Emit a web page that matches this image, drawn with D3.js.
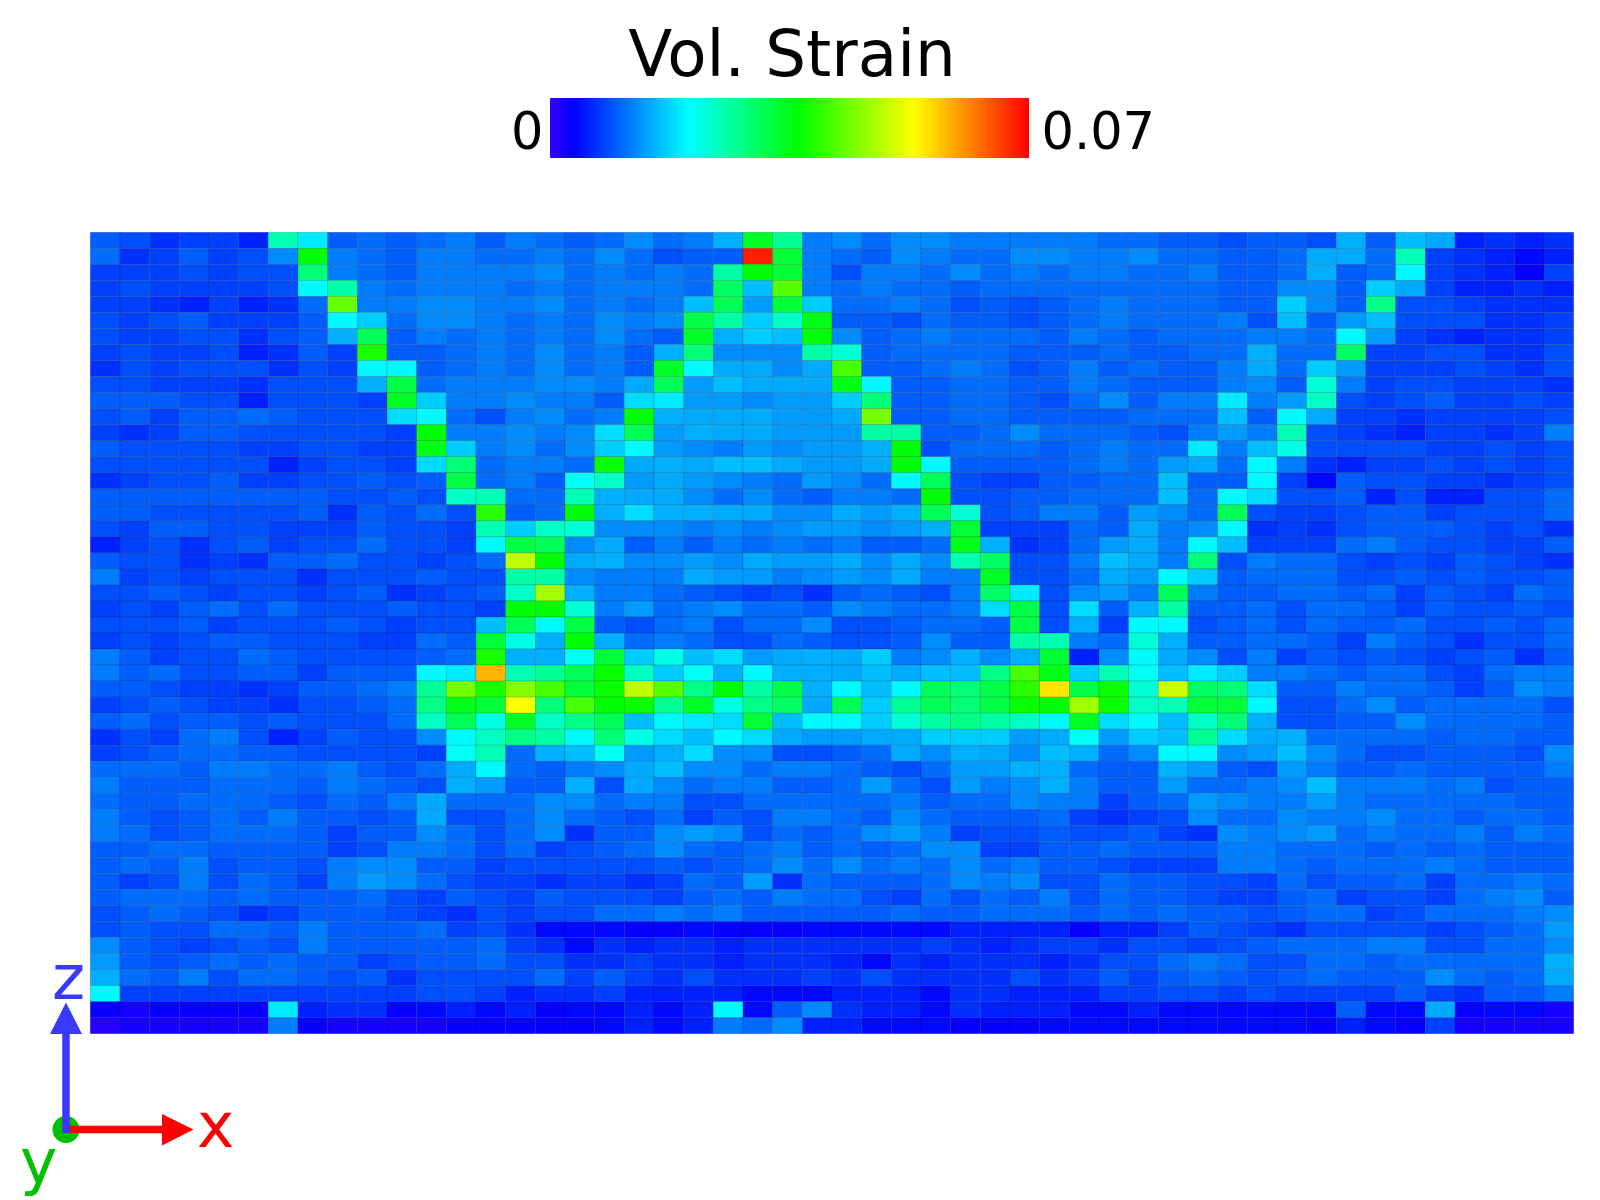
<!DOCTYPE html>
<html>
<head>
<meta charset="utf-8">
<script src="https://cdn.jsdelivr.net/npm/d3@7"></script>
<style>
  html, body { margin: 0; padding: 0; background: #fff; }
  text { font-family: "DejaVu Sans", sans-serif; }
</style>
</head>
<body>
<svg id="chart"></svg>
<script>
// Volumetric strain per cell, top row first, in units of 0.001
const row00 = [9,8,6,7,7,5,25,19,9,10,9,10,11,9,11,10,9,10,12,10,11,15,34,27,11,12,10,12,12,11,11,11,11,11,10,10,9,9,8,9,9,8,15,9,16,14,5,6,5,6];
const row01 = [10,6,7,9,7,8,12,36,11,10,9,11,11,10,10,11,10,12,10,8,9,9,68,33,11,10,9,12,11,10,10,12,12,11,11,12,10,10,9,9,10,14,14,10,25,7,6,5,4,5];
const row02 = [7,7,7,8,7,8,8,29,11,10,9,11,11,11,11,12,10,11,10,11,10,26,36,33,11,8,11,11,10,12,10,11,10,11,11,10,10,11,9,9,10,15,9,10,20,7,6,5,3,7];
const row03 = [7,8,7,7,7,7,8,20,26,11,10,11,11,11,10,11,10,11,11,11,10,30,16,42,11,10,11,10,10,9,10,10,10,10,10,10,10,10,9,9,12,12,9,17,14,7,5,5,6,5];
const row04 = [7,7,6,5,7,5,6,10,43,11,11,12,12,11,11,12,10,11,10,11,16,31,13,33,17,10,10,11,10,8,9,8,9,10,11,10,10,10,9,9,17,12,9,28,8,8,7,6,6,6];
const row05 = [8,7,8,9,7,7,7,9,20,17,10,12,12,11,10,11,10,12,11,12,32,26,17,24,35,9,9,8,10,9,9,8,9,10,11,10,10,10,11,8,16,9,13,16,8,8,8,6,6,7];
const row06 = [8,7,7,8,8,6,8,9,15,31,9,11,10,11,10,11,10,12,10,9,34,15,17,16,36,12,9,10,11,10,10,10,9,11,10,9,10,10,10,11,11,10,20,13,7,6,5,6,6,7];
const row07 = [7,8,7,7,8,5,6,9,7,38,9,9,10,11,10,12,10,11,9,15,29,12,12,12,26,23,9,10,10,10,10,9,9,9,10,9,9,10,10,15,10,10,30,7,7,8,8,6,6,8];
const row08 = [6,8,7,8,8,8,6,8,7,20,20,9,10,11,10,12,10,11,9,34,20,14,14,12,14,41,9,9,10,11,10,8,9,11,9,10,9,9,11,14,10,17,13,7,7,7,8,7,6,8];
const row09 = [8,8,7,7,7,6,8,8,8,15,32,10,11,11,11,12,12,11,14,31,13,16,14,14,14,35,20,9,9,10,10,9,9,11,10,9,9,9,11,12,9,23,11,7,8,8,7,7,7,6];
const row10 = [9,9,9,8,8,5,8,8,8,7,34,17,11,11,12,11,11,9,18,19,13,13,12,13,13,17,29,9,9,10,10,9,8,10,12,9,11,11,19,11,13,24,8,7,8,9,7,7,8,7];
const row11 = [8,9,7,9,9,10,9,8,8,8,18,20,10,8,11,12,10,11,36,15,14,14,14,13,13,14,44,9,9,10,10,9,9,9,9,10,10,10,16,9,20,14,7,7,6,7,7,7,7,8];
const row12 = [7,6,7,9,9,8,8,8,8,8,7,36,11,11,12,11,12,18,31,13,15,14,14,13,13,13,26,26,9,9,10,12,10,10,10,9,8,11,13,11,25,8,7,6,5,7,7,6,7,11];
const row13 = [9,8,8,8,8,7,7,8,8,7,7,35,17,11,12,10,12,17,20,13,12,11,13,12,13,13,15,36,8,10,10,10,9,10,11,10,10,19,11,16,22,8,8,8,8,7,7,8,7,8];
const row14 = [8,8,8,8,8,8,5,7,8,8,7,18,29,10,11,11,10,37,14,15,14,16,16,14,13,13,14,36,20,9,9,9,9,10,11,10,13,14,10,20,11,6,5,7,7,8,7,8,7,8];
const row15 = [6,7,8,8,9,7,7,8,8,9,8,9,32,10,11,9,21,24,13,14,13,12,11,10,13,12,10,20,31,8,7,7,9,9,10,10,16,9,9,20,7,4,9,8,8,7,7,6,7,8];
const row16 = [9,9,9,9,9,9,9,9,8,8,9,8,24,25,10,10,25,15,14,14,12,10,12,10,9,11,11,10,36,8,8,9,9,10,10,10,16,10,20,18,8,8,9,5,8,5,5,8,8,10];
const row17 = [9,9,8,8,8,8,8,9,6,9,8,10,8,39,9,10,36,15,18,15,15,14,14,12,12,14,13,15,31,23,8,9,11,11,9,13,12,10,31,8,7,7,8,9,9,7,8,8,8,10];
const row18 = [8,7,9,9,8,8,7,7,7,9,8,8,7,25,17,24,23,12,12,12,11,12,11,12,13,13,12,13,15,33,7,7,7,10,9,14,11,12,20,6,7,6,8,9,9,9,8,7,8,6];
const row19 = [5,7,8,6,8,9,7,8,8,10,8,8,7,20,32,31,12,14,9,11,9,11,10,11,10,11,9,9,10,35,15,6,7,10,13,14,11,20,16,7,7,7,10,11,9,8,8,7,7,9];
const row20 = [9,8,8,6,7,6,9,9,10,8,8,7,8,10,49,36,14,15,12,12,13,12,14,13,13,14,12,14,12,25,30,8,8,11,16,14,11,29,8,11,10,10,8,7,8,7,9,8,7,6];
const row21 = [11,7,8,7,8,8,8,6,8,8,8,9,8,8,26,26,12,11,11,11,14,13,13,11,12,13,12,14,11,11,34,8,8,10,14,13,20,17,9,10,10,10,8,8,9,8,9,8,8,9];
const row22 = [8,8,9,8,7,8,8,7,8,9,6,7,8,9,24,47,15,11,11,10,9,8,7,8,6,9,10,9,8,11,30,19,8,12,13,11,31,11,9,9,10,10,9,10,7,9,8,7,10,9];
const row23 = [7,8,7,9,10,8,10,8,8,8,9,8,8,7,36,36,23,11,13,10,11,12,10,10,9,12,11,10,10,11,18,32,8,18,9,15,26,9,9,10,8,10,10,9,7,9,8,8,9,8];
const row24 = [8,8,8,9,7,8,8,8,9,8,7,8,8,16,31,20,32,9,8,10,11,8,10,10,12,8,8,9,10,10,9,32,8,15,7,20,20,8,9,10,8,10,9,9,10,8,8,9,8,10];
const row25 = [7,8,7,8,9,9,8,8,8,7,7,10,9,33,22,15,36,15,10,11,10,8,8,10,9,8,8,9,12,9,9,26,25,11,10,23,15,9,9,10,10,9,7,11,9,8,6,8,8,10];
const row26 = [11,9,7,8,8,10,9,8,8,8,8,9,10,38,15,15,21,33,17,22,16,18,13,14,15,14,17,11,12,15,12,15,33,5,12,20,14,12,8,11,7,9,8,9,8,7,8,9,6,9];
const row27 = [11,9,10,8,8,9,9,7,9,9,9,20,19,58,25,27,31,37,24,17,21,15,20,15,15,14,16,14,16,16,28,41,35,17,25,21,16,19,17,11,11,10,9,10,10,8,7,10,11,11];
const row28 = [9,9,8,7,7,6,7,9,9,10,11,27,44,38,45,41,33,37,49,42,28,36,26,32,15,20,16,20,31,29,32,39,55,32,37,23,50,30,29,18,9,9,11,10,10,9,7,9,12,11];
const row29 = [7,8,9,8,7,7,6,8,8,9,10,28,35,33,53,29,41,36,37,27,34,22,28,30,14,31,17,27,31,29,32,37,36,47,37,24,25,33,33,20,8,8,10,12,9,10,10,10,10,8];
const row30 = [9,10,8,9,9,8,9,8,8,8,10,24,31,22,34,24,28,31,16,20,19,18,33,16,20,20,17,23,26,28,26,24,20,34,18,20,16,24,29,15,8,8,9,9,12,10,10,10,10,9];
const row31 = [6,8,7,10,11,8,5,7,9,8,8,12,20,24,28,26,20,29,22,18,16,20,18,14,13,13,14,14,17,17,17,13,14,21,13,17,16,27,18,14,15,10,10,10,10,9,10,10,9,9];
const row32 = [7,8,9,10,10,9,9,8,8,8,8,7,21,25,10,15,16,21,13,15,18,12,12,8,8,9,10,14,12,15,14,12,16,15,10,12,20,20,12,13,16,12,10,8,8,9,9,9,8,12];
const row33 = [10,10,10,9,11,11,10,10,11,9,8,10,14,20,10,9,11,12,14,16,12,12,10,11,11,10,9,8,10,13,13,15,15,10,9,9,15,13,9,8,13,11,9,9,10,9,9,9,9,11];
const row34 = [11,9,9,9,10,10,10,9,11,10,9,8,15,13,9,9,15,8,14,12,10,11,11,9,9,10,13,10,8,13,11,12,15,11,9,9,13,10,10,11,12,16,11,11,11,10,11,8,9,9];
const row35 = [10,9,9,10,10,10,9,8,10,9,11,14,10,10,10,12,12,10,11,11,8,8,10,10,10,10,10,11,9,10,10,12,11,11,7,9,10,13,12,11,11,13,11,10,10,10,10,10,9,9];
const row36 = [11,9,8,9,10,9,11,9,9,8,9,14,8,8,10,12,10,9,8,10,7,9,8,11,11,10,9,12,10,9,9,9,10,7,6,7,8,12,10,10,12,11,11,12,10,10,9,10,10,9];
const row37 = [11,10,8,9,10,10,10,9,7,9,9,12,10,8,10,12,6,9,9,12,13,12,8,10,9,10,12,13,11,7,8,8,9,8,8,9,7,6,12,11,12,13,10,11,10,10,11,9,11,10];
const row38 = [9,9,10,10,9,9,9,9,7,8,11,11,10,8,10,7,8,9,10,12,10,9,10,11,9,10,9,10,12,12,7,7,9,9,10,9,9,9,11,11,10,10,10,9,10,9,10,9,9,9];
const row39 = [9,10,9,11,8,9,9,8,11,12,12,9,9,7,8,8,8,8,8,9,8,9,10,12,10,12,10,11,10,12,10,11,9,9,8,7,7,7,11,11,10,9,10,10,10,11,10,9,9,9];
const row40 = [9,7,8,11,8,10,9,7,11,13,12,10,8,7,7,6,7,7,6,7,10,9,13,6,10,9,9,9,10,12,11,12,8,8,10,9,9,8,8,7,10,8,9,9,10,7,10,10,11,10];
const row41 = [9,10,10,10,9,10,9,9,9,10,8,7,9,8,7,9,8,8,8,7,9,10,9,11,10,10,8,7,10,8,10,9,11,8,10,9,9,8,7,7,9,10,7,8,8,7,10,11,12,9];
const row42 = [8,9,10,9,8,6,7,9,9,9,8,7,6,8,7,8,8,10,10,11,10,11,9,9,9,9,9,10,9,9,10,10,10,9,10,9,10,9,9,8,9,10,10,7,8,10,10,10,11,12];
const row43 = [8,9,8,8,10,10,9,11,9,9,9,10,7,8,6,4,4,4,3,3,4,3,3,3,4,4,4,4,4,5,5,5,5,3,5,5,7,9,8,7,6,8,8,8,8,7,8,9,10,13];
const row44 = [12,9,8,7,8,9,8,11,9,9,9,9,9,10,7,6,4,6,5,6,6,5,6,6,6,6,6,6,7,6,5,6,7,7,6,8,8,7,8,9,10,10,10,11,11,8,8,10,10,12];
const row45 = [13,9,8,9,10,9,10,9,9,7,8,9,9,10,8,8,6,6,7,6,6,5,6,6,6,5,4,6,5,6,6,6,5,6,8,8,10,11,10,8,8,10,10,9,10,10,10,10,10,15];
const row46 = [15,10,9,11,8,10,10,9,8,9,6,8,8,8,8,10,7,9,7,6,8,6,6,6,7,6,8,6,6,6,6,8,6,7,9,7,9,10,9,8,9,10,9,9,9,12,10,9,10,14];
const row47 = [20,7,7,7,7,7,7,7,7,7,7,8,8,7,5,6,6,7,5,5,5,5,4,4,4,5,5,5,4,6,6,5,5,5,7,7,8,8,7,8,7,7,7,7,9,7,6,9,9,11];
const row48 = [3,2,3,3,3,3,19,5,6,6,3,4,5,4,5,3,4,4,5,4,5,20,4,9,12,6,5,5,4,6,5,5,5,4,4,5,4,4,4,4,4,4,9,4,4,14,3,4,4,2];
const row49 = [1,2,2,2,2,2,11,3,2,2,2,2,3,3,3,3,3,4,5,4,5,11,10,12,5,5,4,4,4,3,3,3,4,4,4,4,4,4,4,4,4,3,5,4,3,7,2,2,2,2];

const rows = [row00,row01,row02,row03,row04,row05,row06,row07,row08,row09,
              row10,row11,row12,row13,row14,row15,row16,row17,row18,row19,
              row20,row21,row22,row23,row24,row25,row26,row27,row28,row29,
              row30,row31,row32,row33,row34,row35,row36,row37,row38,row39,
              row40,row41,row42,row43,row44,row45,row46,row47,row48,row49];

// Colour bar
const strainMin = 0, strainMax = 0.07;
const colorStops = [0, 0.05, 0.29, 0.52, 0.76, 1];
const colorRange = ["#3300ff", "#0000ff", "#00ffff", "#00ff00", "#ffff00", "#ff0000"];
const legendLabels = ["0", "0.07"];
const title = "Vol. Strain";

const width = 1600, height = 1200;
const svg = d3.select("#chart")
              .attr("width", width)
              .attr("height", height)
              .style("display", "block");

// Set up scales
const xScale = d3.scaleBand()
                 .domain(d3.range(row00.length))
                 .range([90.3, 1573.7]);

const yScale = d3.scaleBand()
                 .domain(d3.range(rows.length))
                 .range([232.3, 1033.7]);

const colorScale = d3.scaleLinear()
                     .domain(colorStops.map(t => strainMin + t * (strainMax - strainMin)))
                     .range(colorRange)
                     .clamp(true);

// The background reads came out a touch dark against the reference
const readBias = 0.7;
const cellStrain = d => (d >= 5 && d <= 14 ? d + readBias : d) / 1000;

// Heatmap cells
rows.forEach((values, r) => {
    svg.append("g")
       .selectAll("rect")
       .data(values)
       .join("rect")
       .attr("x", (d, c) => xScale(c))
       .attr("y", yScale(r))
       .attr("width", xScale.bandwidth())
       .attr("height", yScale.bandwidth())
       .attr("fill", d => colorScale(cellStrain(d)))
       .attr("stroke", "#000")
       .attr("stroke-opacity", 0.25)
       .attr("stroke-width", 0.6);
});

// Title
svg.append("text")
   .attr("x", 792)
   .attr("y", 76)
   .attr("text-anchor", "middle")
   .style("font-size", "64.3px")
   .text(title);

// Legend bar, gradient built from the colour scale
const gradient = svg.append("defs").append("linearGradient").attr("id", "strainGradient");
colorStops.forEach((t, i) => {
    gradient.append("stop")
            .attr("offset", t)
            .attr("stop-color", colorRange[i]);
});

svg.append("rect")
   .attr("x", 550)
   .attr("y", 98)
   .attr("width", 479)
   .attr("height", 60)
   .attr("fill", "url(#strainGradient)");

svg.append("text")
   .attr("x", 543.5)
   .attr("y", 148.5)
   .attr("text-anchor", "end")
   .style("font-size", "51px")
   .text(legendLabels[0]);

svg.append("text")
   .attr("x", 1041.5)
   .attr("y", 148.5)
   .style("font-size", "51px")
   .text(legendLabels[1]);

// Orientation triad
const triad = svg.append("g");

triad.append("circle")
     .attr("cx", 66)
     .attr("cy", 1129.5)
     .attr("r", 13.5)
     .attr("fill", "#00c000");

triad.append("line")
     .attr("x1", 66).attr("x2", 166)
     .attr("y1", 1129.5).attr("y2", 1129.5)
     .attr("stroke", "#ff0000")
     .attr("stroke-width", 7.5);

triad.append("path")
     .attr("d", "M193.5,1129.5L162,1114L162,1145.5Z")
     .attr("fill", "#ff0000");

triad.append("line")
     .attr("x1", 66).attr("x2", 66)
     .attr("y1", 1133).attr("y2", 1030)
     .attr("stroke", "#3a3aff")
     .attr("stroke-width", 7.5);

triad.append("path")
     .attr("d", "M66,1002.5L82,1034L50,1034Z")
     .attr("fill", "#3a3aff");

triad.append("text").attr("x", 197).attr("y", 1147).attr("fill", "#ff0000").style("font-size", "63px").text("x");
triad.append("text").attr("x", 20).attr("y", 1183).attr("fill", "#00c000").style("font-size", "63px").text("y");
triad.append("text").attr("x", 52).attr("y", 999).attr("fill", "#3a3aff").style("font-size", "63px").text("z");
</script>
</body>
</html>
